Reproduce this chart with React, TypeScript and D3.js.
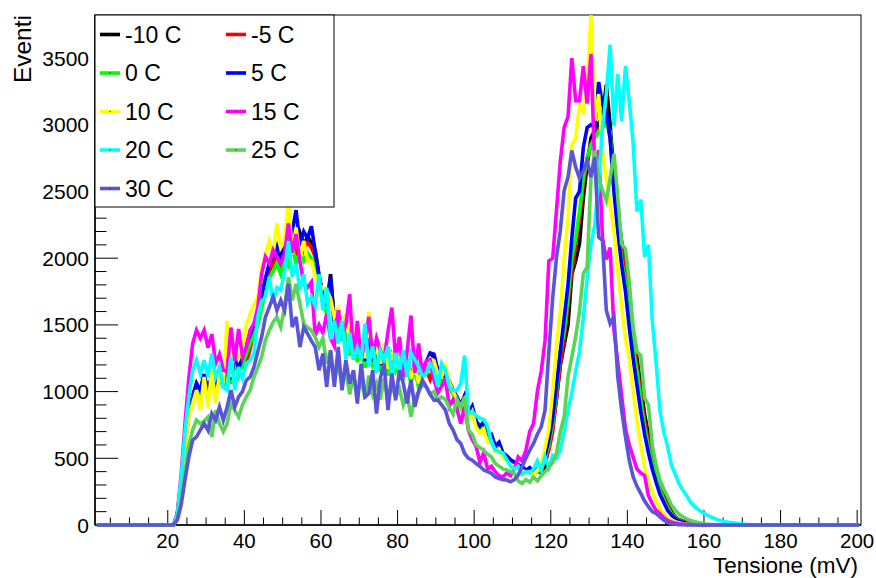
import React from 'react';
import * as d3 from 'd3';

// Histogram: 200 bins of 1 mV from 1 to 201 mV; arrays start at bin index START_BIN
const START_BIN = 20;
const N_BINS = 200;
const X_MIN = 1;
const X_MAX = 201;
const Y_MAX = 3823;

const labels = ['-10 C', '-5 C', '0 C', '5 C', '10 C', '15 C', '20 C', '25 C', '30 C'];
const colors = ['#000000', '#ff0000', '#00ff00', '#0000ff', '#ffff00', '#ff00ff', '#00ffff', '#59d454', '#5954d8'];

const tM10 = [
  0, 80, 320, 620, 850, 960, 1060, 1000, 1130, 990,
  1120, 1010, 1160, 1060, 1240, 1090, 1280, 1160, 1250, 1330,
  1420, 1480, 1560, 1690, 1830, 1930, 1990, 2070, 1980, 2090,
  2040, 2230, 2060, 2190, 2100, 2160, 2120, 2060, 1870, 1720,
  1640, 1880, 1520, 1620, 1420, 1560, 1320, 1460, 1260, 1380,
  1220, 1390, 1250, 1310, 1190, 1340, 1160, 1290, 1190, 1250,
  1140, 1240, 1100, 1200, 1060, 1160, 1200, 1270, 1260, 1150,
  1100, 1120, 1060, 1000, 950, 890, 960, 830, 880, 770,
  730, 760, 660, 670, 580, 610, 530, 510, 480, 470,
  450, 430, 410, 420, 390, 410, 390, 440, 600, 760,
  950, 1200, 1350, 1500, 1880, 1980, 2110, 2450, 2700, 2900,
  2960, 3010, 3060, 3300, 3000, 2620, 2360, 2120, 1960, 1680,
  1420, 1250, 1050, 830, 680, 560, 410, 310, 230, 150,
  100, 60, 40, 28, 18, 12, 8, 5, 3, 2,
  2, 1, 1, 0, 0, 0, 0, 0, 0, 0,
];

const tM5 = [
  0, 70, 300, 600, 830, 950, 1040, 1010, 1110, 980,
  1100, 1000, 1140, 1040, 1220, 1070, 1260, 1140, 1230, 1210,
  1320, 1460, 1540, 1680, 1800, 1900, 1960, 2030, 1940, 2060,
  2000, 2180, 2020, 2150, 2060, 2120, 2080, 2010, 1840, 1700,
  1620, 1820, 1500, 1600, 1410, 1540, 1310, 1440, 1250, 1360,
  1210, 1370, 1240, 1300, 1180, 1320, 1150, 1270, 1180, 1230,
  1130, 1220, 1080, 1190, 1050, 1150, 1160, 1090, 1180, 1120,
  1090, 1150, 1080, 1010, 940, 900, 950, 820, 870, 760,
  720, 740, 650, 650, 570, 600, 520, 500, 470, 460,
  440, 430, 400, 420, 390, 400, 410, 480, 560, 700,
  950, 1200, 1400, 1650, 1900, 2100, 2280, 2550, 2750, 2850,
  2920, 2960, 3000, 3050, 2900, 2560, 2300, 2080, 1880, 1620,
  1380, 1200, 980, 780, 620, 500, 380, 280, 200, 140,
  90, 60, 38, 25, 16, 10, 7, 5, 3, 2,
  2, 1, 1, 0, 0, 0, 0, 0, 0, 0,
];

const t0 = [
  0, 70, 310, 610, 840, 950, 1030, 990, 1100, 970,
  1090, 990, 1120, 1030, 1200, 1060, 1230, 1120, 1200, 1280,
  1360, 1420, 1500, 1620, 1760, 1850, 1900, 1960, 1880, 1980,
  1940, 2100, 1950, 2060, 1980, 2040, 2000, 1950, 1800, 1660,
  1580, 1780, 1460, 1560, 1380, 1500, 1270, 1410, 1220, 1330,
  1180, 1340, 1200, 1270, 1150, 1300, 1120, 1240, 1150, 1200,
  1100, 1200, 1060, 1170, 1030, 1120, 1130, 1190, 1170, 1100,
  1060, 1090, 1030, 980, 920, 870, 930, 800, 850, 740,
  700, 730, 640, 640, 560, 590, 510, 490, 460, 450,
  430, 420, 400, 410, 380, 400, 420, 500, 600, 760,
  1000, 1300, 1450, 1700, 2000, 2150, 2350, 2600, 2750, 2850,
  2900, 2950, 2980, 3000, 2950, 2500, 2250, 1980, 1820, 1550,
  1320, 1150, 930, 730, 580, 460, 350, 260, 190, 130,
  85, 55, 35, 22, 14, 9, 6, 4, 3, 2,
  1, 1, 0, 0, 0, 0, 0, 0, 0, 0,
];

const t5 = [
  0, 75, 320, 620, 850, 970, 1060, 1010, 1130, 1000,
  1130, 1020, 1160, 1060, 1250, 1090, 1290, 1170, 1260, 1350,
  1430, 1500, 1580, 1720, 1850, 1960, 2020, 2090, 2000, 2120,
  2060, 2200, 2360, 2100, 2200, 2150, 2240, 2050, 1860, 1730,
  1650, 1860, 1520, 1620, 1430, 1570, 1330, 1470, 1270, 1390,
  1230, 1400, 1260, 1320, 1200, 1350, 1170, 1300, 1200, 1260,
  1150, 1250, 1110, 1210, 1070, 1170, 1220, 1290, 1280, 1160,
  1110, 1130, 1070, 1010, 960, 900, 970, 840, 890, 780,
  740, 770, 670, 680, 590, 620, 540, 520, 490, 470,
  450, 440, 410, 430, 400, 420, 430, 520, 640, 800,
  1050, 1300, 1550, 1800, 2150, 2450, 2500, 2830, 2980, 3000,
  2980, 3320, 3150, 3100, 2900, 2500, 2200, 1950, 1750, 1480,
  1250, 1050, 850, 680, 540, 420, 320, 230, 170, 110,
  75, 48, 30, 20, 13, 9, 6, 4, 3, 2,
  1, 1, 0, 0, 0, 0, 0, 0, 0, 0,
];

const t10 = [
  0, 60, 280, 580, 820, 910, 1010, 860, 1110, 885,
  1160, 910, 1130, 1060, 1530, 1110, 1360, 1250, 1310, 1500,
  1580, 1650, 1700, 1930, 2030, 2130, 2030, 2260, 2080, 2130,
  2430, 2030, 2230, 1990, 2130, 1980, 1980, 1860, 1740, 1780,
  1760, 1700, 1560, 1620, 1450, 1580, 1340, 1480, 1280, 1400,
  1250, 1600, 1260, 1330, 1210, 1360, 1170, 1300, 1200, 1260,
  1150, 1250, 1100, 1200, 1060, 1160, 1200, 1250, 1230, 1130,
  1110, 1190, 1070, 1000, 940, 880, 940, 800, 850, 730,
  690, 720, 620, 630, 550, 570, 500, 480, 450, 440,
  420, 410, 390, 400, 380, 410, 450, 580, 720, 1000,
  1350, 1600, 2000, 2300, 2850, 2900, 3150, 3100, 3300, 3820,
  3030, 3230, 2800, 2600, 2400, 2200, 1900, 1650, 1400, 1250,
  1000, 780, 600, 430, 330, 250, 180, 120, 80, 55,
  38, 25, 16, 10, 7, 5, 3, 2, 1, 1,
  0, 0, 0, 0, 0, 0, 0, 0, 0, 0,
];

const t15 = [
  0, 90, 380, 760, 1100, 1360, 1460, 1400, 1460, 1330,
  1430, 1210, 1280, 1160, 1150, 1480, 1230, 1470, 1260, 1330,
  1460, 1510, 1630, 1880, 2010, 1960, 2060, 2010, 1960, 2030,
  2260, 2040, 2180, 1980, 1810, 1780, 1820, 1420, 1500, 1440,
  1580, 1400, 1340, 1610, 1420, 1500, 1730, 1240, 1530, 1240,
  1380, 1560, 1260, 1400, 1310, 1240, 1450, 1630, 1240, 1410,
  1110, 1300, 1570, 1140, 1360, 1110, 1230, 1240, 1090, 990,
  1040, 1090, 890, 940, 870, 760, 890, 710, 640, 590,
  470, 540, 420, 440, 400, 370, 360, 390, 370, 420,
  510, 480, 560, 700, 760, 1000, 1150, 1380, 1980, 2000,
  2360, 2730, 2980, 3060, 3500, 3180, 3180, 3440, 3160, 3530,
  2660, 2810, 2150, 1990, 2080, 1460, 1220, 970, 720, 600,
  510, 420, 390, 370, 220, 160, 110, 85, 55, 35,
  22, 15, 10, 7, 5, 4, 3, 2, 1, 1,
  0, 0, 0, 0, 0, 0, 0, 0, 0, 0,
];

const t20 = [
  0, 80, 350, 700, 960, 1160, 1235, 1135, 1235, 1110,
  1285, 1110, 1185, 1035, 1010, 1260, 1010, 1185, 1100, 1210,
  1235, 1285, 1560, 1680, 1710, 1860, 1660, 1780, 1760, 1900,
  2130, 1860, 1960, 1760, 1880, 1660, 1710, 1640, 1880, 1610,
  1780, 1390, 1530, 1360, 1530, 1240, 1440, 1240, 1330, 1240,
  1510, 1190, 1340, 1140, 1310, 1240, 1340, 1110, 1290, 1140,
  1310, 1110, 1290, 1240, 1190, 1110, 1140, 1210, 1160, 1040,
  1210, 1160, 1040, 1010, 1010, 1060, 1270, 840, 850, 820,
  800, 790, 740, 620, 560, 550, 540, 490, 440, 420,
  440, 380, 400, 390, 420, 480, 410, 510, 430, 520,
  500, 560, 700, 860, 990, 1150, 1300, 1550, 1850, 2100,
  2250, 2580, 2980, 3230, 3600, 2990, 3380, 3030, 3440, 3180,
  2860, 2350, 2440, 2010, 2100, 1530, 1220, 860, 700, 590,
  450, 380, 310, 260, 220, 170, 140, 115, 95, 80,
  65, 52, 40, 32, 25, 20, 16, 12, 10, 8,
];

const t25 = [
  0, 40, 200, 400, 600, 711, 786, 760, 780, 810,
  660, 860, 760, 700, 760, 910, 860, 810, 900, 960,
  1010, 1110, 1180, 1260, 1384, 1459, 1520, 1559, 1484, 1634,
  1858, 1684, 1808, 1660, 1509, 1480, 1459, 1409, 1334, 1400,
  1210, 1300, 1100, 1200, 1050, 1150, 980, 1120, 990, 1080,
  950, 1120, 980, 1060, 940, 1100, 920, 1050, 960, 1020,
  900, 980, 811, 950, 1000, 1050, 1035, 980, 1000, 940,
  960, 940, 880, 830, 936, 886, 960, 711, 680, 600,
  580, 560, 530, 511, 461, 440, 420, 412, 400, 387,
  330, 312, 340, 320, 360, 330, 370, 400, 430, 470,
  540, 700, 811, 1110, 1260, 1410, 1600, 1884, 1934, 2600,
  2807, 2607, 2508, 2433, 2600, 2782, 2458, 2108, 2070, 1820,
  1485, 1300, 1270, 950, 900, 600, 450, 340, 270, 212,
  150, 112, 80, 62, 45, 35, 25, 18, 12, 8,
  5, 3, 2, 1, 0, 0, 0, 0, 0, 0,
];

const t30 = [
  0, 40, 150, 340, 510, 636, 660, 711, 761, 710,
  835, 785, 885, 785, 885, 1010, 885, 960, 1000, 1085,
  1110, 1185, 1300, 1409, 1559, 1634, 1709, 1609, 1684, 1609,
  1808, 1484, 1560, 1334, 1484, 1434, 1380, 1334, 1160, 1285,
  1035, 1310, 1035, 1335, 1010, 1235, 1060, 1160, 911, 1210,
  960, 986, 1160, 836, 1100, 1210, 861, 1135, 936, 1160,
  1060, 911, 1085, 886, 1000, 1085, 1035, 980, 936, 936,
  900, 861, 761, 711, 640, 611, 536, 500, 486, 461,
  440, 412, 400, 387, 360, 349, 340, 337, 324, 340,
  374, 437, 500, 560, 611, 680, 736, 861, 1300, 1700,
  2009, 2208, 2508, 2607, 2807, 2682, 2600, 2657, 2732, 2607,
  2757, 2158, 2133, 1610, 1510, 1560, 1110, 861, 661, 485,
  362, 290, 237, 180, 137, 100, 87, 60, 37, 20,
  10, 5, 3, 2, 1, 0, 0, 0, 0, 0,
  0, 0, 0, 0, 0, 0, 0, 0, 0, 0,
];

const seriesValues = [tM10, tM5, t0, t5, t10, t15, t20, t25, t30];
const xTicks = [20, 40, 60, 80, 100, 120, 140, 160, 180, 200];
const yTicks = [0, 500, 1000, 1500, 2000, 2500, 3000, 3500];

const FONT = "'Liberation Sans', Arial, Helvetica, sans-serif";

export default function App() {
  const W = 876;
  const H = 578;
  const L = 95, R = 861, T = 15, B = 525;
  const x = d3.scaleLinear().domain([X_MIN, X_MAX]).range([L, R]);
  const y = d3.scaleLinear().domain([0, Y_MAX]).range([B, T]);

  const full = (arr: number[]) =>
    d3.range(N_BINS).map((i) => (i < START_BIN ? 0 : arr[i - START_BIN] ?? 0));
  const line = d3
    .line<number>()
    .x((_, i) => x(X_MIN + 0.5 + i))
    .y((d) => y(d));

  const xMinor = d3.range(5, X_MAX, 5).filter((v) => v % 20 !== 0);
  const yMinor = d3.range(100, Y_MAX, 100).filter((v) => v % 500 !== 0);

  const legendRows = [34.5, 73, 111.5, 150, 188.5];
  const legendCols = [100, 226];

  return (
    <svg
      width={W}
      height={H}
      style={{ position: 'absolute', left: 0, top: 0, background: '#fff' }}
      fontFamily={FONT}
    >
      <rect x={0} y={0} width={W} height={H} fill="#fff" />
      <defs>
        <clipPath id="plotclip">
          <rect x={L} y={T - 2} width={R - L} height={B - T + 4} />
        </clipPath>
      </defs>
      {/* frame */}
      <rect x={L} y={T} width={R - L} height={B - T} fill="none" stroke="#000" strokeWidth={1} />
      {/* x axis */}
      <line x1={L} x2={R} y1={B} y2={B} stroke="#000" strokeWidth={1.5} />
      {xTicks.map((t) => (
        <g key={'xt' + t}>
          <line x1={x(t)} x2={x(t)} y1={B} y2={B - 15} stroke="#000" strokeWidth={1} />
          <text x={x(t)} y={547.5} textAnchor="middle" fontSize={20.5} fill="#000">
            {t}
          </text>
        </g>
      ))}
      {xMinor.map((t) => (
        <line key={'xm' + t} x1={x(t)} x2={x(t)} y1={B} y2={B - 7.5} stroke="#000" strokeWidth={1} />
      ))}
      {/* y axis */}
      <line x1={L} x2={L} y1={T} y2={B} stroke="#000" strokeWidth={1.5} />
      {yTicks.map((t) => (
        <g key={'yt' + t}>
          <line x1={L} x2={L + 23} y1={y(t)} y2={y(t)} stroke="#000" strokeWidth={1} />
          <text x={89} y={y(t)} dy="0.36em" textAnchor="end" fontSize={21} fill="#000">
            {t}
          </text>
        </g>
      ))}
      {yMinor.map((t) => (
        <line key={'ym' + t} x1={L} x2={L + 11.5} y1={y(t)} y2={y(t)} stroke="#000" strokeWidth={1} />
      ))}
      {/* axis titles */}
      <text x={858} y={573} textAnchor="end" fontSize={22.5} fill="#000">
        Tensione (mV)
      </text>
      <text
        transform="translate(31,15) rotate(-90)"
        textAnchor="end"
        fontSize={24.5}
        fill="#000"
      >
        Eventi
      </text>
      {/* series */}
      <g clipPath="url(#plotclip)">
        {seriesValues.map((arr, k) => (
          <path
            key={labels[k]}
            d={line(full(arr)) || ''}
            fill="none"
            stroke={colors[k]}
            strokeWidth={3.6}
            strokeLinejoin="miter"
            strokeMiterlimit={4}
          />
        ))}
      </g>
      {/* legend */}
      <rect x={L} y={T} width={334 - L} height={207 - T} fill="#fff" stroke="#000" strokeWidth={1} />
      {labels.map((lab, k) => {
        const col = k % 2;
        const row = Math.floor(k / 2);
        const lx = legendCols[col];
        const ly = legendRows[row];
        return (
          <g key={'lg' + k}>
            <line x1={lx} x2={lx + 20} y1={ly} y2={ly} stroke={colors[k]} strokeWidth={3.6} />
            <circle cx={lx + 10} cy={ly} r={0.7} fill="#333" />
            <text x={lx + 25} y={ly + 8.3} fontSize={23} fill="#000">
              {lab}
            </text>
          </g>
        );
      })}
    </svg>
  );
}
